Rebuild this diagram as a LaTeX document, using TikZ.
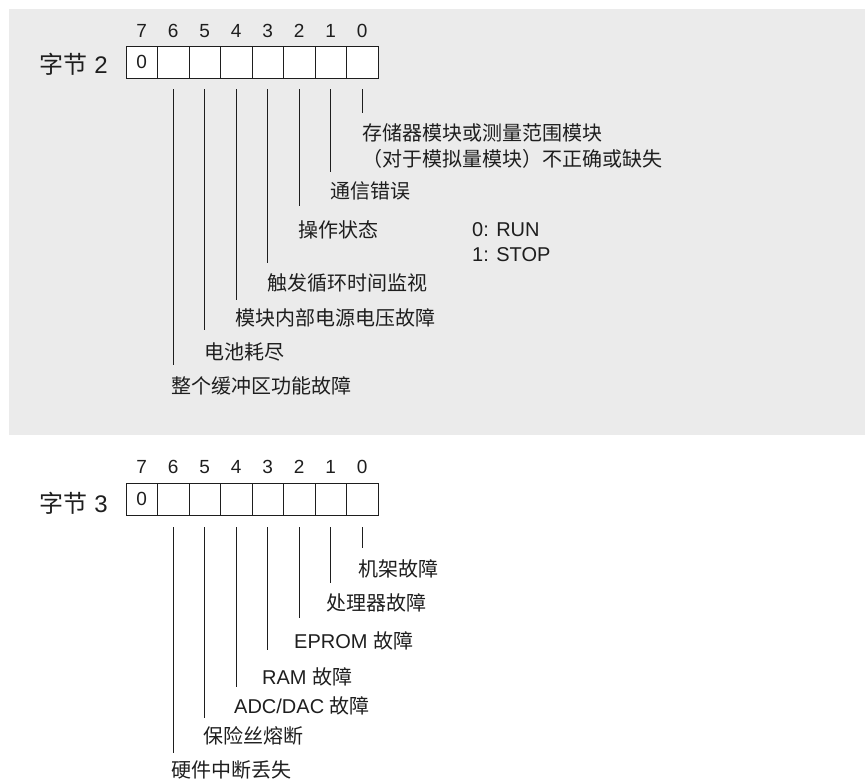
\documentclass[tikz,border=0pt]{standalone}
\usepackage{fontspec}
\setmainfont{Liberation Sans}
\newfontfamily\cjk{Noto Sans CJK SC}
\usetikzlibrary{calc}
\definecolor{bggray}{HTML}{EBEBEB}
\definecolor{ink}{HTML}{1E1E1E}
\tikzset{
  cell/.style={draw=ink, line width=1pt, minimum width=31.5pt, minimum height=32pt, inner sep=0pt, outer sep=0pt, fill=white, font=\fontsize{19}{19}\selectfont, text=ink},
  bitnum/.style={inner sep=0pt, font=\fontsize{19}{19}\selectfont, text=ink},
  bytelab/.style={inner sep=0pt, anchor=east, font=\fontsize{24}{24}\selectfont, text=ink},
  lab/.style={inner sep=0pt, anchor=west, font=\fontsize{20}{20}\selectfont, text=ink},
  lead/.style={draw=ink, line width=1pt}
}
\begin{document}
\begin{tikzpicture}[x=1pt,y=-1pt]
\useasboundingbox (0,0) rectangle (865,780);
\fill[bggray] (9,9) rectangle (865,435);
% ---------- Byte 2 ----------
\foreach \i in {0,...,7}{
  \node[cell] (b2c\i) at ({126+31.5*(7-\i)+15.75},62) {};
  \node[bitnum] (b2n\i) at ($(b2c\i.north)+(0,-15)$) {\i};
}
\node[bitnum] (b2v7) at (b2c7.center) {0};
\node[bytelab] (b2lab) at ($(b2c7.west)+(-18,2)$) {{\cjk 字节} 2};
\node[lab] (l20a) at (362,133) {\cjk 存储器模块或测量范围模块};
\node[lab] (l20b) at (362,159) {\cjk （对于模拟量模块）不正确或缺失};
\node[lab] (l21) at (330,191) {\cjk 通信错误};
\node[lab] (l22) at (298,230) {\cjk 操作状态};
\node[lab] (run) at (472,230) {0: RUN};
\node[lab] (stop) at (472,255) {1: STOP};
\node[lab] (l23) at (267,283) {\cjk 触发循环时间监视};
\node[lab] (l24) at (235,318) {\cjk 模块内部电源电压故障};
\node[lab] (l25) at (204,352) {\cjk 电池耗尽};
\node[lab] (l26) at (171,386) {\cjk 整个缓冲区功能故障};
\foreach \b/\l/\g in {0/l20a/20,1/l21/19,2/l22/24,3/l23/20,4/l24/18,5/l25/22,6/l26/21}{
  \draw[lead] ($(b2c\b.south)+(0,11)$) -- ($(b2c\b.south |- \l.west)+(0,-\g)$);
}
% ---------- Byte 3 ----------
\foreach \i in {0,...,7}{
  \node[cell] (b3c\i) at ({126+31.5*(7-\i)+15.75},499) {};
  \node[bitnum] (b3n\i) at ($(b3c\i.north)+(0,-16)$) {\i};
}
\node[bitnum] (b3v7) at (b3c7.center) {0};
\node[bytelab] (b3lab) at ($(b3c7.west)+(-18,4)$) {{\cjk 字节} 3};
\node[lab] (l30) at (358,569) {\cjk 机架故障};
\node[lab] (l31) at (326,603) {\cjk 处理器故障};
\node[lab] (l32) at (294,641) {EPROM {\cjk 故障}};
\node[lab] (l33) at (262,677) {RAM {\cjk 故障}};
\node[lab] (l34) at (234,706) {ADC/DAC {\cjk 故障}};
\node[lab] (l35) at (203,736) {\cjk 保险丝熔断};
\node[lab] (l36) at (171,770) {\cjk 硬件中断丢失};
\foreach \b/\l/\g in {0/l30/21,1/l31/20,2/l32/23,3/l33/27,4/l34/19,5/l35/18,6/l36/17}{
  \draw[lead] ($(b3c\b.south)+(0,12)$) -- ($(b3c\b.south |- \l.west)+(0,-\g)$);
}
\end{tikzpicture}
\end{document}
